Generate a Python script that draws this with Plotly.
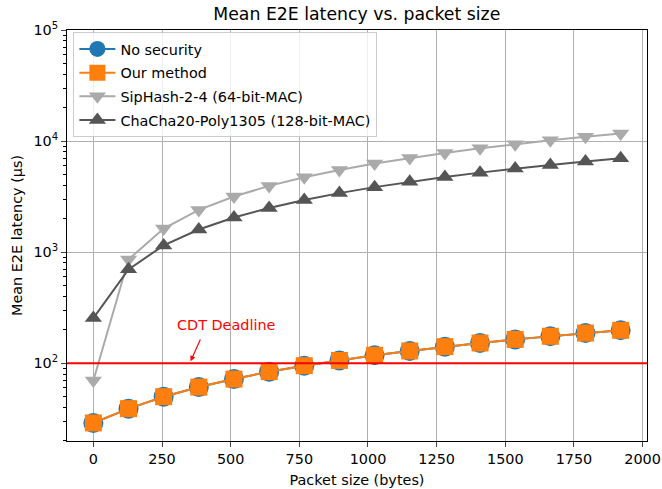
import plotly.graph_objects as go

packet_size = [0, 128, 256, 384, 512, 640, 768, 896, 1024, 1152, 1280, 1408, 1536, 1664, 1792, 1920]
no_security = [29, 39, 50, 61, 72, 84, 95, 106, 118, 129, 141, 152, 164, 175, 187, 198]
our_method = [29, 39, 50, 61, 72, 84, 95, 106, 118, 129, 141, 152, 164, 175, 187, 198]
siphash = [70, 860, 1630, 2400, 3170, 3950, 4720, 5500, 6270, 7050, 7820, 8600, 9370, 10150, 10920, 11700]
chacha = [255, 700, 1150, 1600, 2050, 2500, 2950, 3400, 3850, 4300, 4750, 5200, 5650, 6100, 6550, 7000]

x_ticks = [0, 250, 500, 750, 1000, 1250, 1500, 1750, 2000]
y_ticks = [100, 1000, 10000, 100000]
y_tick_text = ["10<sup>2</sup>", "10<sup>3</sup>", "10<sup>4</sup>", "10<sup>5</sup>"]
deadline = 100

FONT = "DejaVu Sans"
FS = 14.4

fig = go.Figure()
fig.add_trace(go.Scatter(x=packet_size, y=no_security, mode="lines+markers", name="No security",
                         legendgroup="a",
                         line=dict(color="#1f77b4", width=2),
                         marker=dict(symbol="circle", size=20, color="#1f77b4")))
fig.add_trace(go.Scatter(x=packet_size, y=our_method, mode="lines+markers", name="Our method",
                         legendgroup="b",
                         line=dict(color="#ff7f0e", width=2),
                         marker=dict(symbol="square", size=17, color="#ff7f0e")))
fig.add_trace(go.Scatter(x=packet_size, y=siphash, mode="lines+markers", name="SipHash-2-4 (64-bit-MAC)",
                         legendgroup="c",
                         line=dict(color="#aaaaaa", width=2),
                         marker=dict(symbol="triangle-down", size=15, color="#aaaaaa")))
fig.add_trace(go.Scatter(x=packet_size, y=chacha, mode="lines+markers", name="ChaCha20-Poly1305 (128-bit-MAC)",
                         legendgroup="d",
                         line=dict(color="#555555", width=2),
                         marker=dict(symbol="triangle-up", size=15, color="#555555")))

fig.add_shape(type="line", xref="paper", x0=0, x1=1, yref="y", y0=deadline, y1=deadline,
              line=dict(color="red", width=2), layer="above")

# annotation text and arrow (data coordinates, y in log10 units)
fig.add_annotation(x=483, y=2.345, xref="x", yref="y", text="CDT Deadline", showarrow=False,
                   font=dict(family=FONT, size=FS, color="red"))
fig.add_annotation(x=354, y=2.018, ax=392, ay=2.228, xref="x", yref="y", axref="x", ayref="y",
                   text="", showarrow=True, arrowhead=2, arrowsize=0.9, arrowwidth=1.2, arrowcolor="red")

fig.update_layout(
    width=662, height=489,
    margin=dict(l=67, r=15, t=30, b=48),
    paper_bgcolor="white", plot_bgcolor="white",
    font=dict(family=FONT, size=FS, color="black"),
    title=dict(text="Mean E2E latency vs. packet size", x=0.539, xanchor="center",
               y=0.971, yanchor="middle", font=dict(family=FONT, size=17.3)),
    showlegend=True,
    legend=dict(x=0.011, y=0.995, xanchor="left", yanchor="top",
                bgcolor="rgba(255,255,255,0.8)", bordercolor="#cccccc", borderwidth=1,
                font=dict(family=FONT, size=FS), tracegroupgap=2, itemsizing="trace",
                itemwidth=36),
)
fig.update_xaxes(range=[-96, 2016], tickvals=x_ticks, ticks="outside", ticklen=5,
                 showline=True, linecolor="black", linewidth=1, mirror=True,
                 showgrid=True, gridcolor="#b0b0b0", gridwidth=1, zeroline=False,
                 automargin=False,
                 title=dict(text="Packet size (bytes)", standoff=8, font=dict(family=FONT, size=FS)),
                 tickfont=dict(family=FONT, size=FS))
fig.update_yaxes(type="log", range=[1.30, 5], tickvals=y_ticks, ticktext=y_tick_text,
                 ticks="outside", ticklen=5,
                 minor=dict(dtick="D1", ticks="outside", ticklen=3, tickcolor="black", showgrid=False),
                 showline=True, linecolor="black", linewidth=1, mirror=True,
                 showgrid=True, gridcolor="#b0b0b0", gridwidth=1, zeroline=False,
                 automargin=False,
                 title=dict(text="Mean E2E latency (µs)", standoff=7, font=dict(family=FONT, size=FS)),
                 tickfont=dict(family=FONT, size=FS))

fig.write_html("out.html", config={"displayModeBar": False},
               post_script="document.body.style.margin='0px';")
